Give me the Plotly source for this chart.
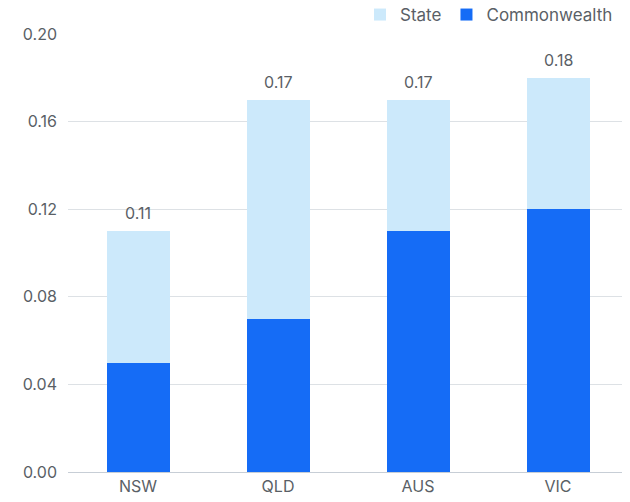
import plotly.graph_objects as go

categories = ["NSW", "QLD", "AUS", "VIC"]
commonwealth = [0.05, 0.07, 0.11, 0.12]
state = [0.06, 0.10, 0.06, 0.06]
totals = [0.11, 0.17, 0.17, 0.18]
tick_vals = [0.00, 0.04, 0.08, 0.12, 0.16, 0.20]

font_family = "Inter, Roboto, sans-serif"
gray = "#5a5f66"

fig = go.Figure()
fig.add_trace(go.Bar(x=categories, y=commonwealth, name="Commonwealth",
                     marker=dict(color="#156cf6", line=dict(width=0)), width=0.45))
fig.add_trace(go.Bar(x=categories, y=state, name="State",
                     marker=dict(color="#cce9fb", line=dict(width=0)), width=0.45))

for c, t in zip(categories, totals):
    fig.add_annotation(x=c, y=t, text=f"{t:.2f}", showarrow=False,
                       yanchor="bottom", yshift=6,
                       font=dict(size=16, color=gray, family=font_family))

fig.update_layout(
    width=630, height=502,
    barmode="stack",
    plot_bgcolor="white", paper_bgcolor="white",
    margin=dict(l=60, r=10, t=26, b=38, autoexpand=False),
    font=dict(family=font_family, size=16, color=gray),
    legend=dict(orientation="h", x=0.5587, xanchor="left", xref="container",
                y=1.0845, yanchor="top", yref="paper",
                traceorder="reversed", font=dict(size=17, color=gray),
                itemwidth=30, bgcolor="rgba(0,0,0,0)"),
    yaxis=dict(range=[0, 0.2], tickvals=tick_vals, tickformat=".2f",
               showgrid=True, gridcolor="#dde1e5", gridwidth=1,
               zeroline=False, showline=False, ticks="", ticklabelstandoff=10,
               automargin=False),
    xaxis=dict(showline=True, linecolor="#c7ced6", linewidth=1, ticks="",
               showgrid=False, automargin=False),
)
fig.write_html("out.html")
